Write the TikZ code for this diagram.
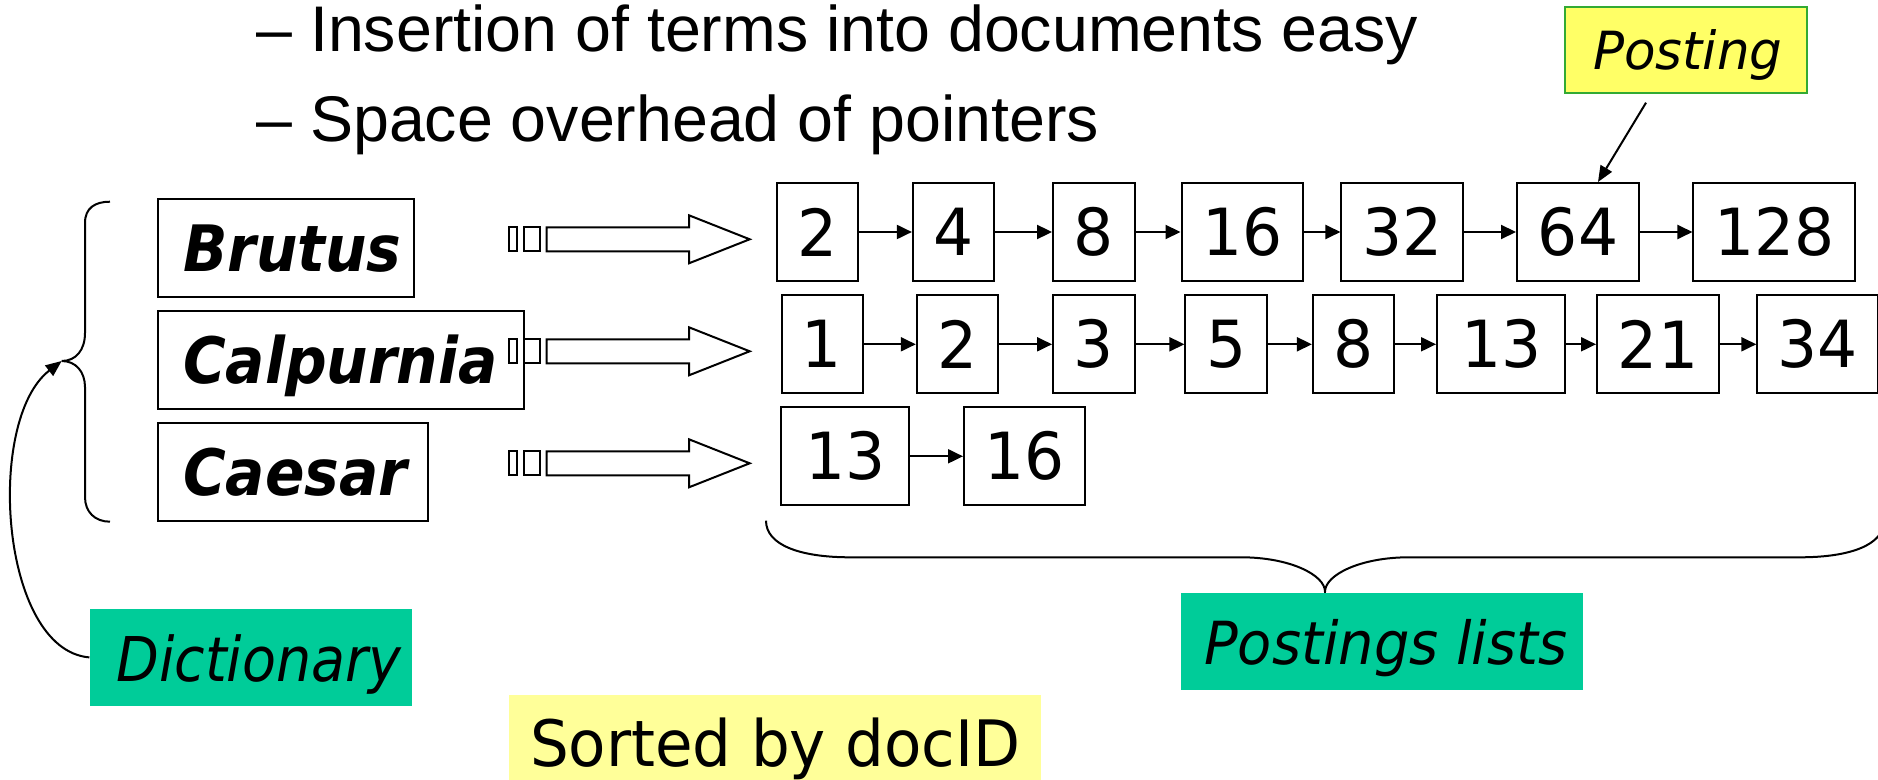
\documentclass[tikz,border=0pt]{standalone}
\usepackage{fontspec}
\setmainfont{Liberation Sans}
\newfontfamily\termfont[FakeStretch=0.91,UprightFont={* Bold Oblique}]{DejaVu Sans}
\newfontfamily\numfont[FakeStretch=0.97]{DejaVu Sans}
\newfontfamily\lblfont[FakeStretch=0.94,UprightFont={* Oblique}]{DejaVu Sans}
\newfontfamily\dictfont[FakeStretch=0.9,UprightFont={* Oblique}]{DejaVu Sans}
\newfontfamily\notefont[FakeStretch=0.98,UprightFont={* Oblique}]{DejaVu Sans}
\newfontfamily\sortfont[FakeStretch=0.955]{DejaVu Sans}
\usetikzlibrary{arrows.meta}
\definecolor{lblgreen}{RGB}{0,204,153}
\definecolor{notepale}{RGB}{255,255,153}
\definecolor{noteyellow}{RGB}{255,255,102}
\definecolor{noteborder}{RGB}{51,170,51}

\begin{document}
\begin{tikzpicture}[x=0.5pt,y=-0.5pt,
  termbox/.style={draw, line width=1pt, inner xsep=12.5pt, inner ysep=0pt,
    minimum height=49pt, align=left, anchor=west,
    text height=28pt, text depth=4.5pt, font=\termfont\fontsize{32}{36}\selectfont},
  postbox/.style={draw, line width=1pt, inner sep=0pt, minimum height=49pt,
    font=\numfont\fontsize{32.5}{36}\selectfont},
  link/.style={line width=1pt, -{Triangle[length=7.5pt,width=7pt]}},
  ptr/.style={line width=1pt, -{Triangle[length=8pt,width=6.5pt]}},
  brace/.style={line width=1pt},
  hollow/.style={line width=1pt},
  lbl/.style={fill=lblgreen, inner sep=0pt},
  heading/.style={anchor=base west, inner sep=0pt, font=\fontsize{32.25}{38}\selectfont}]

\useasboundingbox (0,0) rectangle (1878,780);
\clip (0,0) rectangle (1878,780);

% bullet lines
\node[heading] (h1) at (256,52) {– Insertion of terms into documents easy};
\node[heading] (h2) at (256,142) {– Space overhead of pointers};

% dictionary terms
\node[termbox, text width=102.75pt] (brutus) at (157,248) {Brutus};
\node[termbox, text width=158pt] (calp) at (157,360.2) {Calpurnia};
\node[termbox, text width=110pt] (caesar) at (157,472.2) {Caesar};

% pointer arrays and hollow pointer arrows
\foreach \y in {239.3,351.3,463.3} {
  \draw[hollow] (508.9,\y-12) rectangle (516.9,\y+12);
  \draw[hollow] (523.8,\y-12) rectangle (539.7,\y+12);
  \draw[hollow] (546.7,\y-12) -- (689,\y-12) -- (689,\y-24) -- (749.7,\y)
    -- (689,\y+24) -- (689,\y+12) -- (546.7,\y+12) -- cycle;
}

% postings for Brutus
\node[postbox, minimum width=40.8pt] (r1a) at (817.3,232) {2};
\node[postbox, minimum width=40.5pt] (r1b) at (953.4,232) {4};
\node[postbox, minimum width=40.85pt] (r1c) at (1093.9,232) {8};
\node[postbox, minimum width=60.7pt] (r1d) at (1242.2,232) {16};
\node[postbox, minimum width=60.75pt] (r1e) at (1402.2,232) {32};
\node[postbox, minimum width=61pt] (r1f) at (1578,232) {64};
\node[postbox, minimum width=80.85pt] (r1g) at (1774.3,232) {128};
\foreach \a/\b in {r1a/r1b,r1b/r1c,r1c/r1d,r1d/r1e,r1e/r1f,r1f/r1g}
  \draw[link] (\a.east) -- (\b.west);

% postings for Calpurnia
\node[postbox, minimum width=40.5pt] (r2a) at (822,344.3) {1};
\node[postbox, minimum width=40.8pt] (r2b) at (957.6,344.3) {2};
\node[postbox, minimum width=40.85pt] (r2c) at (1093.9,344.3) {3};
\node[postbox, minimum width=40.8pt] (r2d) at (1226.2,344.3) {5};
\node[postbox, minimum width=40.4pt] (r2e) at (1353.3,344.3) {8};
\node[postbox, minimum width=64.2pt] (r2f) at (1501.2,344.3) {13};
\node[postbox, minimum width=61pt] (r2g) at (1658,344.3) {21};
\node[postbox, minimum width=60.2pt] (r2h) at (1817.5,344.3) {34};
\foreach \a/\b in {r2a/r2b,r2b/r2c,r2c/r2d,r2d/r2e,r2e/r2f,r2f/r2g,r2g/r2h}
  \draw[link] (\a.east) -- (\b.west);

% postings for Caesar
\node[postbox, minimum width=64.15pt] (r3a) at (845.2,456.3) {13};
\node[postbox, minimum width=60.7pt] (r3b) at (1024.7,456.3) {16};
\draw[link] (r3a.east) -- (r3b.west);

% brace round the dictionary
\coordinate (dtip) at (61.7,361);
\draw[brace] (110,201.7) .. controls (95,201.7) and (85,208) .. (85,223)
  -- (85,333) .. controls (85,350) and (76,361) .. (dtip)
  .. controls (76,361) and (85,372) .. (85,387)
  -- (85,497) .. controls (85,512) and (95,521.7) .. (110,521.7);

% brace under the postings lists
\coordinate (ptip) at (1325,591.7);
\draw[brace] (766,520.7) .. controls (766,545) and (800,557.3) .. (850,557.3)
  -- (1241,557.3) .. controls (1290,557.3) and (1325,575) .. (ptip)
  .. controls (1325,575) and (1360,557.3) .. (1409,557.3)
  -- (1800,557.3) .. controls (1850,557.3) and (1884,545) .. (1884,520.7);

% labels
\node[lbl, minimum width=161pt, minimum height=48.35pt, text height=30.3pt,
  text depth=6pt, font=\dictfont\fontsize{30.85}{34}\selectfont]
  (dict) at (250.8,657.4) {\hspace*{8pt}Dictionary};
\node[lbl, minimum width=201pt, minimum height=48.35pt, text height=29.3pt,
  text depth=6pt, font=\lblfont\fontsize{29.7}{34}\selectfont]
  (plists) at (1381.8,641.65) {\hspace*{4pt}Postings lists};
\node[fill=notepale, inner sep=0pt, minimum width=265.85pt, minimum height=42.5pt,
  text height=35.2pt, text depth=6pt, font=\sortfont\fontsize{32}{36}\selectfont]
  (sorted) at (775.2,737.5) {Sorted by docID};
\node[fill=noteyellow, draw=noteborder, line width=1pt, inner sep=0pt,
  minimum width=121pt, minimum height=43pt, text height=24.7pt, text depth=5pt,
  font=\notefont\fontsize{26.3}{30}\selectfont]
  (posting) at (1685.7,50.3) {\hspace*{2pt}Posting};

% pointers from the labels
\coordinate (ptail) at (1646,102.7);
\draw[ptr] (ptail) -- ([xshift=10pt]r1f.north);
\draw[ptr] (dict.west) .. controls (0,650) and (-15,420) .. (dtip);
\end{tikzpicture}
\end{document}
